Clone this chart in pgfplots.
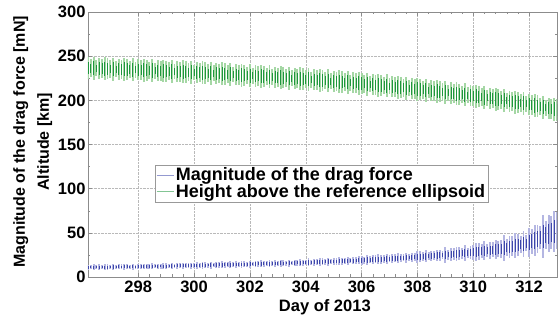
\documentclass[border=0pt]{standalone}
\usepackage{pgfplots}
\usepackage{pgfplotstable}
\usepackage{fontspec}
\setmainfont{Liberation Sans}
\pgfplotsset{compat=1.18}
\definecolor{gdark}{RGB}{30,150,60}
\definecolor{glight}{RGB}{165,215,165}
\definecolor{bdark}{RGB}{60,70,170}
\definecolor{blight}{RGB}{180,182,226}
\definecolor{axgray}{RGB}{140,140,140}
\pgfplotstableread{
x g ga gd b ba bd
296.2 236.5 12 7 11.0 3.0 1.7
296.3 236.4 10 5 11.0 2.4 1.3
296.4 236.3 13 8 11.1 3.5 1.9
296.5 236.1 9 4 11.1 2.3 1.2
296.6 236.0 12 7 11.2 3.0 1.7
296.7 235.9 11 6 11.2 2.7 1.5
296.8 235.8 13 8 11.2 3.3 1.8
296.9 235.6 12 7 11.3 3.0 1.7
297.0 235.5 10 5 11.3 2.4 1.3
297.1 235.4 13 8 11.4 3.5 1.9
297.2 235.3 9 4 11.4 2.3 1.2
297.3 235.2 12 7 11.5 3.0 1.7
297.4 235.1 11 6 11.5 2.7 1.5
297.5 235.0 13 8 11.6 3.3 1.8
297.6 234.9 12 7 11.6 3.0 1.7
297.7 234.8 10 5 11.7 2.4 1.3
297.8 234.7 13 8 11.7 3.5 1.9
297.9 234.6 9 4 11.8 2.3 1.2
298.0 234.5 12 7 11.8 3.0 1.7
298.1 234.4 11 6 11.9 2.7 1.5
298.2 234.2 13 8 11.9 3.3 1.8
298.3 234.1 12 7 12.0 3.0 1.7
298.4 233.9 10 5 12.0 2.4 1.3
298.5 233.8 13 8 12.1 3.5 1.9
298.6 233.6 9 4 12.2 2.3 1.2
298.7 233.5 12 7 12.2 3.0 1.7
298.8 233.3 11 6 12.3 2.7 1.5
298.9 233.2 13 8 12.3 3.3 1.8
299.0 233.0 12 7 12.4 3.0 1.7
299.1 232.9 10 5 12.5 2.4 1.3
299.2 232.7 13 8 12.5 3.5 1.9
299.3 232.6 9 4 12.6 2.3 1.2
299.4 232.4 12 7 12.6 3.0 1.7
299.5 232.3 11 6 12.7 2.7 1.5
299.6 232.1 13 8 12.8 3.3 1.8
299.7 232.0 12 7 12.8 3.0 1.7
299.8 231.8 10 5 12.9 2.4 1.3
299.9 231.7 13 8 12.9 3.5 1.9
300.0 231.5 9 4 13.0 2.6 1.4
300.1 231.4 12 7 13.1 3.5 1.9
300.2 231.2 11 6 13.1 3.2 1.7
300.3 231.1 13 8 13.2 3.9 2.1
300.4 230.9 12 7 13.3 3.5 1.9
300.5 230.8 10 5 13.4 2.8 1.5
300.6 230.6 13 8 13.4 4.0 2.2
300.7 230.5 9 4 13.5 2.6 1.4
300.8 230.3 12 7 13.6 3.5 1.9
300.9 230.2 11 6 13.6 3.2 1.7
301.0 230.0 13 8 13.7 3.9 2.1
301.1 229.8 12 7 13.8 3.5 1.9
301.2 229.6 10 5 13.9 2.8 1.5
301.3 229.4 13 8 13.9 4.0 2.2
301.4 229.2 9 4 14.0 2.6 1.4
301.5 229.0 12 7 14.1 3.5 1.9
301.6 228.8 11 6 14.2 3.2 1.7
301.7 228.6 13 8 14.3 3.9 2.1
301.8 228.4 12 7 14.3 3.5 1.9
301.9 228.2 10 5 14.4 2.8 1.5
302.0 228.0 13 8 14.5 4.0 2.2
302.1 227.8 9 4 14.6 2.6 1.4
302.2 227.6 12 7 14.7 3.5 1.9
302.3 227.4 11 6 14.8 3.2 1.7
302.4 227.2 13 8 14.9 3.9 2.1
302.5 227.0 12 7 15.0 3.5 1.9
302.6 226.8 10 5 15.0 2.8 1.5
302.7 226.6 13 8 15.1 4.0 2.2
302.8 226.4 9 4 15.2 2.6 1.4
302.9 226.2 12 7 15.3 3.5 1.9
303.0 226.0 11 6 15.4 3.2 1.7
303.1 225.8 13 8 15.5 3.9 2.1
303.2 225.6 12 7 15.6 3.5 1.9
303.3 225.4 10 5 15.7 2.8 1.5
303.4 225.2 13 8 15.8 4.0 2.2
303.5 225.0 9 4 15.9 2.6 1.4
303.6 224.8 12 7 16.0 3.5 1.9
303.7 224.6 11 6 16.1 3.2 1.7
303.8 224.4 13 8 16.2 3.9 2.1
303.9 224.2 12 7 16.3 3.5 1.9
304.0 224.0 10 5 16.4 3.2 1.8
304.1 223.8 13 8 16.5 4.6 2.5
304.2 223.5 9 4 16.6 3.0 1.7
304.3 223.3 12 7 16.8 4.0 2.2
304.4 223.0 11 6 16.9 3.6 2.0
304.5 222.8 13 8 17.0 4.4 2.4
304.6 222.5 12 7 17.1 4.0 2.2
304.7 222.3 10 5 17.2 3.2 1.8
304.8 222.0 13 8 17.4 4.6 2.5
304.9 221.8 9 4 17.5 3.0 1.7
305.0 221.5 12 7 17.6 4.0 2.2
305.1 221.3 11 6 17.7 3.6 2.0
305.2 221.0 13 8 17.9 4.4 2.4
305.3 220.8 12 7 18.0 4.0 2.2
305.4 220.5 10 5 18.2 3.2 1.8
305.5 220.3 13 8 18.3 4.6 2.5
305.6 220.0 9 4 18.4 3.0 1.7
305.7 219.8 12 7 18.6 4.0 2.2
305.8 219.5 11 6 18.7 3.6 2.0
305.9 219.3 13 8 18.9 4.4 2.4
306.0 219.0 12 7 19.0 5.0 2.8
306.1 218.7 10 5 19.2 4.0 2.2
306.2 218.4 13 8 19.3 5.8 3.2
306.3 218.1 9 4 19.5 3.8 2.1
306.4 217.8 12 7 19.7 5.0 2.8
306.5 217.5 11 6 19.9 4.5 2.5
306.6 217.2 13 8 20.0 5.5 3.0
306.7 216.9 12 7 20.2 5.0 2.8
306.8 216.6 10 5 20.4 4.0 2.2
306.9 216.3 13 8 20.5 5.8 3.2
307.0 216.0 9 4 20.7 3.8 2.1
307.1 215.7 12 7 20.9 5.0 2.8
307.2 215.3 11 6 21.1 4.5 2.5
307.3 215.0 13 8 21.3 5.5 3.0
307.4 214.6 12 7 21.5 5.0 2.8
307.5 214.3 10 5 21.7 4.0 2.2
307.6 213.9 13 8 21.9 5.8 3.2
307.7 213.6 9 4 22.1 3.8 2.1
307.8 213.2 12 7 22.3 5.0 2.8
307.9 212.9 11 6 22.5 4.5 2.5
308.0 212.5 13 8 22.7 6.6 3.6
308.1 212.2 12 7 22.9 6.0 3.3
308.2 211.8 10 5 23.2 4.8 2.6
308.3 211.5 13 8 23.4 6.9 3.8
308.4 211.1 9 4 23.6 4.5 2.5
308.5 210.8 12 7 23.9 6.0 3.3
308.6 210.4 11 6 24.1 5.4 3.0
308.7 210.1 13 8 24.3 6.6 3.6
308.8 209.7 12 7 24.5 6.0 3.3
308.9 209.4 10 5 24.8 4.8 2.6
309.0 209.0 13 8 25.0 8.6 4.7
309.1 208.6 9 4 25.3 5.6 3.1
309.2 208.2 12 7 25.6 7.5 4.1
309.3 207.8 11 6 25.9 6.8 3.7
309.4 207.4 13 8 26.2 8.3 4.5
309.5 207.0 12 7 26.5 7.5 4.1
309.6 206.6 10 5 26.8 6.0 3.3
309.7 206.2 13 8 27.1 8.6 4.7
309.8 205.8 9 4 27.4 5.6 3.1
309.9 205.4 12 7 27.7 7.5 4.1
310.0 205.0 11 6 28.0 8.6 4.7
310.1 204.6 13 8 28.4 10.5 5.8
310.2 204.1 12 7 28.8 9.5 5.2
310.3 203.7 10 5 29.2 7.6 4.2
310.4 203.2 13 8 29.6 10.9 6.0
310.5 202.8 9 4 30.0 7.1 3.9
310.6 202.3 12 7 30.4 9.5 5.2
310.7 201.9 11 6 30.8 8.6 4.7
310.8 201.4 13 8 31.2 10.5 5.8
310.9 201.0 12 7 31.6 9.5 5.2
311.0 200.5 10 5 32.0 10.0 5.5
311.1 200.0 13 8 32.7 14.4 7.9
311.2 199.5 9 4 33.4 9.4 5.2
311.3 199.0 12 7 34.1 12.5 6.9
311.4 198.5 11 6 34.8 11.3 6.2
311.5 198.0 13 8 35.5 13.8 7.6
311.6 197.5 12 7 36.2 12.5 6.9
311.7 197.0 10 5 36.9 10.0 5.5
311.8 196.5 13 8 37.6 14.4 7.9
311.9 196.0 9 4 38.3 9.4 5.2
312.0 195.5 12 7 39.0 16.0 8.8
312.1 194.9 11 6 40.4 14.4 7.9
312.2 194.2 13 8 41.8 17.6 9.7
312.3 193.6 12 7 43.2 16.0 8.8
312.4 192.9 10 5 44.6 12.8 7.0
312.5 192.3 13 8 46.0 24.2 13.3
312.6 191.6 9 4 47.4 15.8 8.7
312.7 191.0 12 7 48.8 21.0 11.6
312.8 190.3 11 6 50.2 18.9 10.4
312.9 189.7 13 8 51.6 23.1 12.7
313.0 189.0 12 7 53.0 21.0 11.6
}\data
\begin{document}
\begin{tikzpicture}
\begin{axis}[
  at={(0pt,0pt)}, anchor=south west,
  scale only axis, width=469pt, height=265pt,
  xmin=296.2, xmax=313, ymin=0, ymax=300,
  xtick={298,300,...,312}, ytick={0,50,...,300},
  minor x tick num=4, minor y tick num=1,
  tick align=inside, major tick length=4pt, minor tick length=2.5pt,
  axis line style={axgray}, every tick/.style={axgray},
  grid=major, grid style={densely dotted, gray!55},
  /pgf/number format/assume math mode=true,
  /pgf/number format/1000 sep={},
  tick label style={font=\bfseries\fontsize{16.5}{18}\selectfont},
  yticklabel style={xshift=1pt},
  xlabel={Day of 2013},
  ylabel={Magnitude of the drag force [mN]\\Altitude [km]},
  every axis x label/.style={at={(axis description cs:0.505,0)}, anchor=center, yshift=-30pt, font=\bfseries\fontsize{16.5}{18}\selectfont},
  every axis y label/.style={at={(axis description cs:-0.118,0.51)}, rotate=90, anchor=center, align=center, font=\bfseries\fontsize{16}{24}\selectfont},
  legend style={at={(rel axis cs:0.143,0.283)}, anchor=south west, draw=gray!80, font=\bfseries\fontsize{18}{20}\selectfont, inner sep=1pt, row sep=-2pt, cells={anchor=west}},
  legend cell align=left,
  clip=true,
]
\addplot[draw=none, mark=none, forget plot, error bars/.cd, y dir=both, y explicit, error mark=none, error bar style={draw=glight, line width=1.9pt}] table[x=x, y=g, y error=ga] {\data};
\addplot[draw=none, mark=none, forget plot, error bars/.cd, y dir=both, y explicit, error mark=none, error bar style={draw=gdark, line width=0.8pt}] table[x=x, y=g, y error=gd] {\data};
\addplot[draw=none, mark=none, forget plot, error bars/.cd, y dir=both, y explicit, error mark=none, error bar style={draw=blight, line width=1.9pt}] table[x=x, y=b, y error=ba] {\data};
\addplot[draw=none, mark=none, forget plot, error bars/.cd, y dir=both, y explicit, error mark=none, error bar style={draw=bdark, line width=0.8pt}] table[x=x, y=b, y error=bd] {\data};
\addlegendimage{line legend, color=bdark!55, line width=0.6pt}
\addlegendentry{Magnitude of the drag force}
\addlegendimage{line legend, color=gdark!55, line width=0.6pt}
\addlegendentry{Height above the reference ellipsoid}
\end{axis}
\pgfresetboundingbox
\path[use as bounding box] (-88pt,-43pt) rectangle (470pt,277pt);
\end{tikzpicture}
\end{document}
